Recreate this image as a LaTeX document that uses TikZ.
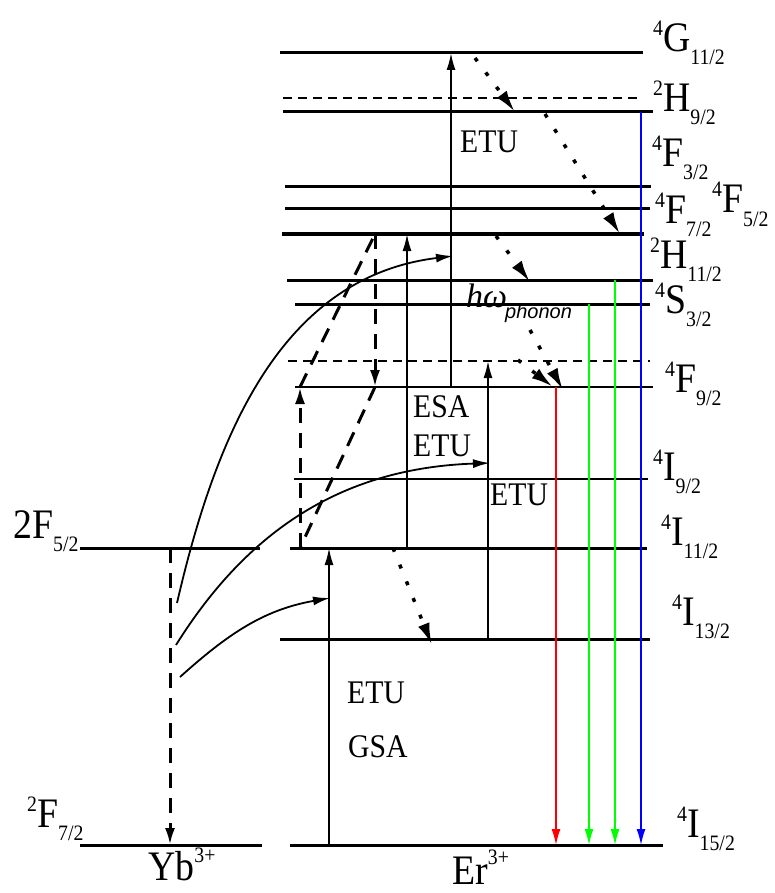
\documentclass[tikz,border=0pt]{standalone}
\usepackage{fontspec}
\setmainfont{Liberation Serif}[FakeStretch=0.9]
\newfontfamily\hwfont{Liberation Serif}
\newfontfamily\phfont{Liberation Sans}
\usetikzlibrary{arrows.meta}

\newcommand\smallfs{\fontsize{22}{22}\selectfont}
\newcommand\lev[3]{\raisebox{16pt}{\smallfs #1}#2\raisebox{-13pt}{\smallfs #3}}

\begin{document}
\begin{tikzpicture}[
  x=1pt, y=-1pt,
  lvl/.style={line width=3pt},
  thinlvl/.style={line width=1.8pt},
  virt/.style={line width=1.6pt, dash pattern=on 9pt off 6pt},
  up/.style={line width=1.8pt, -{Latex[length=17pt,width=9pt]}},
  et/.style={line width=3pt, dash pattern=on 15pt off 10pt,
             -{Latex[length=17pt,width=10pt]}},
  dsh/.style={line width=3pt, dash pattern=on 15pt off 10pt},
  relax/.style={line width=3.5pt, dash pattern=on 4pt off 14pt,
                -{Latex[length=22pt,width=12pt]}},
  emit/.style={line width=1.5pt, -{Latex[length=16pt,width=9pt]}},
  lab/.style={anchor=base west, inner sep=0pt, font=\fontsize{42}{42}\selectfont},
  txt/.style={anchor=base west, inner sep=0pt, font=\fontsize{33}{33}\selectfont}
]
  \useasboundingbox (0,0) rectangle (774,893);

  % Er levels and Yb levels
  \foreach \n/\y/\a/\b/\s in {G11/53/280/643/lvl, Hd/98/283/640/virt,
      H9/112/283/653/lvl, Fa/187/285/651/lvl, Fb/209/285/650/lvl,
      Hc/234/282/644/lvl, Sa/280/287/653/lvl, Sb/304/295/650/lvl,
      Fd/361/288/650/virt, F9/387/295/653/thinlvl, I9/479/294/648/thinlvl,
      I11/548/290/647/lvl, I13/639/280/650/lvl, I15/845/290/663/lvl,
      Yb5/548/80/260/lvl, Yb7/845/80/262/lvl}
    {\coordinate (\n) at (\a,\y); \draw[\s] (\n) -- (\b,\y);}

  \foreach \n/\x in {gsa/329, esa/407, etuA/451, etuB/488, yb/170, zl/300,
      zr/375, red/556, grA/589, grB/615, blu/641}
    \coordinate (\n) at (\x,0);

  \node[lab] (lG11) at (653,52) {\lev{4}{G}{11/2}};
  \node[lab] (lH9) at (653,112) {\lev{2}{H}{9/2}};
  \node[lab] (lF3) at (652,167) {\lev{4}{F}{3/2}};
  \node[lab] (lF5) at (712,213) {\lev{4}{F}{5/2}};
  \node[lab] (lF7) at (655,223) {\lev{4}{F}{7/2}};
  \node[lab] (lH11) at (650,268) {\lev{2}{H}{11/2}};
  \node[lab] (lS3) at (655,313) {\lev{4}{S}{3/2}};
  \node[lab] (lF9) at (665,392) {\lev{4}{F}{9/2}};
  \node[lab] (lI9) at (653,480) {\lev{4}{I}{9/2}};
  \node[lab] (lI11) at (661,545) {\lev{4}{I}{11/2}};
  \node[lab] (lI13) at (672,625) {\lev{4}{I}{13/2}};
  \node[lab] (lI15) at (677,837) {\lev{4}{I}{15/2}};
  \node[lab] (lYb7) at (27,827) {\lev{2}{F}{7/2}};
  \node[lab] (lYb5) at (13,538) {2F\raisebox{-13pt}{\smallfs 5/2}};
  \node[lab] (ybion) at (148,880) {Yb\raisebox{18pt}{\smallfs 3+}};
  \node[lab] (erion) at (452,884) {Er\raisebox{20pt}{\smallfs 3+}};

  \node[txt] (etu1) at (460,153) {ETU};
  \node[txt] (esa1) at (413,417) {ESA};
  \node[txt] (etu2) at (413,456) {ETU};
  \node[txt] (etu3) at (490,505) {ETU};
  \node[txt] (etu4) at (347,703) {ETU};
  \node[txt] (gsa1) at (348,757) {GSA};
  \node[anchor=base west, inner sep=0pt,
        font=\fontsize{34}{34}\hwfont\itshape] (hw) at (466,307) {hω};
  \node[anchor=base west, inner sep=0pt,
        font=\fontsize{20}{20}\phfont\itshape] (phn) at (505,318) {phonon};

  % absorption and transfer
  \draw[up] (gsa |- I15) -- (gsa |- I11);
  \draw[up] (esa |- I11) -- (esa |- Hc);
  \draw[up] (etuA |- F9) -- (etuA |- G11);
  \draw[up] (etuB |- I13) -- (etuB |- Fd);
  \draw[et] (yb |- Yb5) -- (yb |- Yb7);
  \draw[et] (zl |- I11) -- (zl |- F9);
  \draw[dsh] (zl |- F9) -- (zr |- Hc);
  \draw[et] (zr |- Hc) -- (zr |- F9);
  \draw[dsh] (zr |- F9) -- (zl |- I11);

  \coordinate (c1a) at (177,603); \coordinate (c1b) at (453,256);
  \coordinate (c2a) at (176,645); \coordinate (c2b) at (490,463);
  \coordinate (c3a) at (180,677); \coordinate (c3b) at (330,598);
  \draw[up] (c1a) to[out=77, in=187] (c1b);
  \draw[up] (c2a) to[out=58, in=182] (c2b);
  \draw[up] (c3a) to[out=42, in=190] (c3b);

  % nonradiative relaxation
  \foreach \ax/\ay/\bx/\by [count=\i] in {475/58/515/112, 545/114/620/234,
      496/236/530/282, 530/330/563/390, 518/360/553/387, 393/548/432/645}
    {\coordinate (ra\i) at (\ax,\ay); \coordinate (rb\i) at (\bx,\by);
     \draw[relax] (ra\i) -- (rb\i);}

  % emission
  \draw[emit, red] (red |- F9) -- (red |- I15);
  \draw[emit, green] (grA |- Sb) -- (grA |- I15);
  \draw[emit, green] (grB |- Sa) -- (grB |- I15);
  \draw[emit, blue] (blu |- H9) -- (blu |- I15);
\end{tikzpicture}
\end{document}
